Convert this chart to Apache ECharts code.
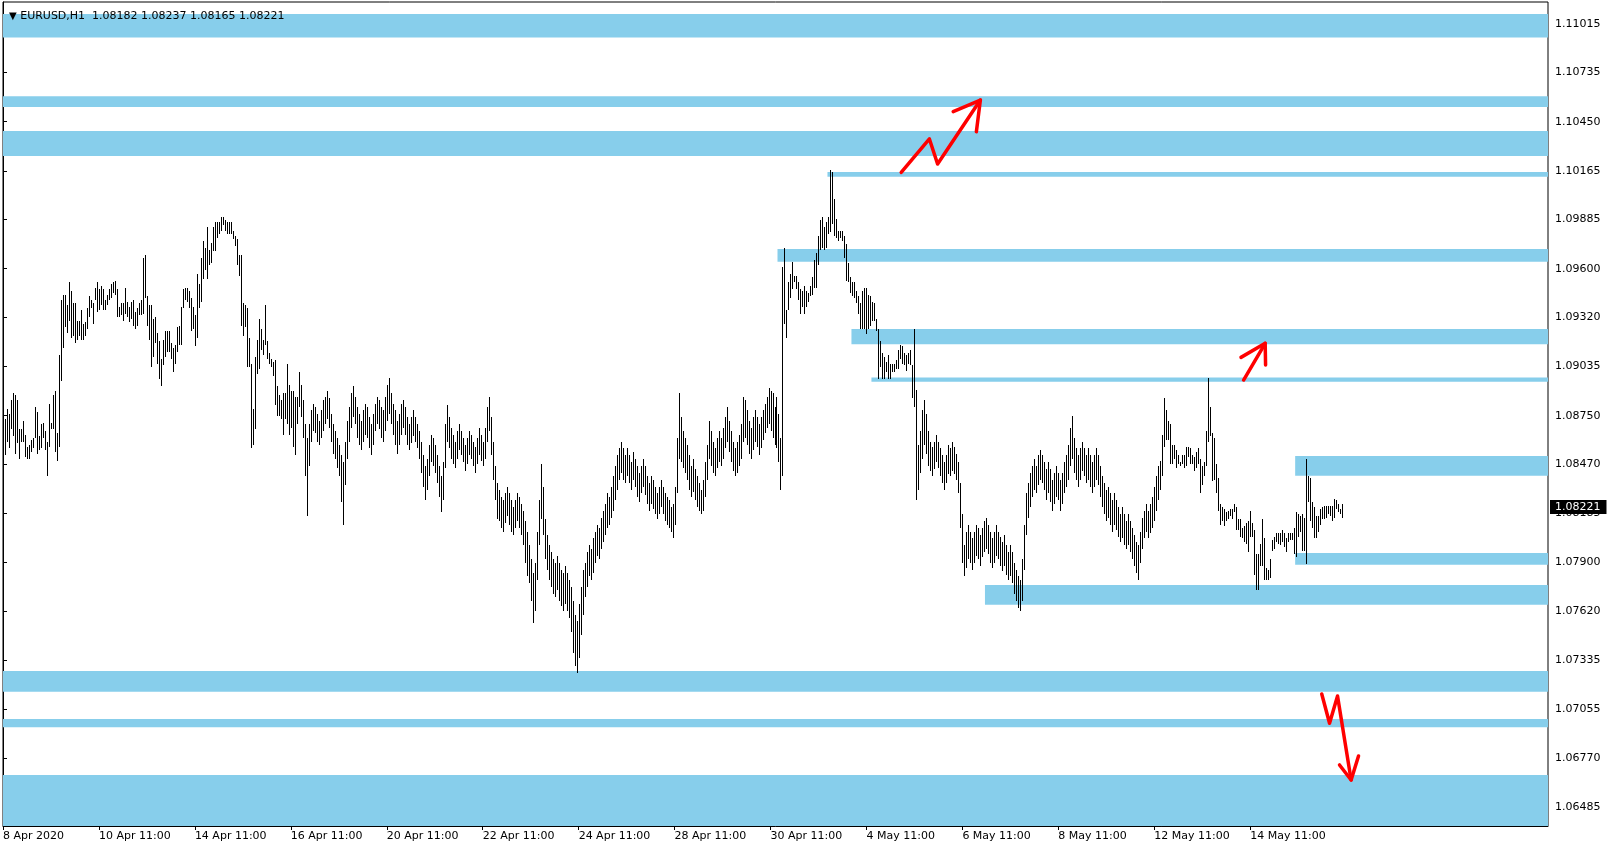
<!DOCTYPE html>
<html><head><meta charset="utf-8">
<script src="https://cdn.jsdelivr.net/npm/echarts@6/dist/echarts.min.js"></script>
<style>html,body{margin:0;padding:0;background:#fff}#c{width:1612px;height:850px}</style>
</head><body><div id="c"></div>
<script>
const symbolName = 'EURUSD,H1';
const lastQuote = [1.08182, 1.08237, 1.08165, 1.08221];
const lastPrice = 1.08221;

// hourly bar highs, one per bar from 8 Apr 2020 11:00 (rows of 10)
const barHigh = [
/*0*/  1.0862,1.0873,1.0879,1.0876,1.0884,1.0888,1.0887,1.0884,1.0867,1.0867,
/*10*/ 1.0872,1.0864,1.0857,1.0858,1.0861,1.0862,1.0880,1.0877,1.0863,1.0870,
/*20*/ 1.0871,1.0866,1.0860,1.0882,1.0871,1.0887,1.0889,1.0865,1.0910,1.0942,
/*30*/ 1.0945,1.0945,1.0939,1.0952,1.0947,1.0940,1.0940,1.0930,1.0930,1.0936,
/*40*/ 1.0928,1.0929,1.0937,1.0944,1.0942,1.0940,1.0949,1.0952,1.0948,1.0950,
/*50*/ 1.0948,1.0942,1.0945,1.0948,1.0951,1.0952,1.0953,1.0948,1.0938,1.0940,
/*60*/ 1.0940,1.0949,1.0941,1.0938,1.0941,1.0942,1.0935,1.0937,1.0940,1.0942,
/*70*/ 1.0966,1.0968,1.0944,1.0939,1.0939,1.0931,1.0932,1.0923,1.0918,1.0908,
/*80*/ 1.0919,1.0924,1.0924,1.0924,1.0917,1.0914,1.0916,1.0926,1.0927,1.0938,
/*90*/ 1.0948,1.0949,1.0949,1.0947,1.0943,1.0938,1.0933,1.0957,1.0951,1.0966,
/*100*/1.0976,1.0972,1.0984,1.0971,1.0975,1.0984,1.0987,1.0987,1.0987,1.0990,
/*110*/1.0990,1.0988,1.0987,1.0987,1.0987,1.0982,1.0979,1.0977,1.0968,1.0968,
/*120*/1.0940,1.0939,1.0937,1.0920,1.0905,1.0879,1.0909,1.0919,1.0931,1.0925,
/*130*/1.0919,1.0939,1.0918,1.0911,1.0908,1.0906,1.0907,1.0892,1.0887,1.0884,
/*140*/1.0888,1.0888,1.0905,1.0893,1.0889,1.0889,1.0886,1.0886,1.0900,1.0893,
/*150*/1.0884,1.0870,1.0862,1.0870,1.0878,1.0882,1.0880,1.0876,1.0872,1.0878,
/*160*/1.0884,1.0886,1.0889,1.0885,1.0876,1.0870,1.0866,1.0862,1.0858,1.0852,
/*170*/1.0848,1.0860,1.0872,1.0880,1.0888,1.0892,1.0886,1.0880,1.0876,1.0872,
/*180*/1.0878,1.0882,1.0880,1.0874,1.0870,1.0876,1.0882,1.0886,1.0884,1.0880,
/*190*/1.0878,1.0886,1.0893,1.0897,1.0888,1.0882,1.0878,1.0872,1.0876,1.0882,
/*200*/1.0884,1.0880,1.0874,1.0870,1.0874,1.0878,1.0874,1.0870,1.0866,1.0860,
/*210*/1.0852,1.0846,1.0850,1.0858,1.0864,1.0862,1.0858,1.0852,1.0846,1.0840,
/*220*/1.0848,1.0870,1.0881,1.0874,1.0868,1.0864,1.0860,1.0866,1.0870,1.0866,
/*230*/1.0862,1.0858,1.0862,1.0866,1.0864,1.0860,1.0857,1.0862,1.0868,1.0864,
/*240*/1.0860,1.0868,1.0880,1.0886,1.0874,1.0860,1.0846,1.0836,1.0832,1.0828,
/*250*/1.0826,1.0830,1.0834,1.0830,1.0826,1.0822,1.0826,1.0830,1.0828,1.0824,
/*260*/1.0820,1.0814,1.0808,1.0800,1.0792,1.0784,1.0790,1.0808,1.0826,1.0847,
/*270*/1.0834,1.0815,1.0806,1.0800,1.0796,1.0792,1.0790,1.0794,1.0790,1.0786,
/*280*/1.0784,1.0788,1.0784,1.0780,1.0776,1.0768,1.0760,1.0756,1.0766,1.0776,
/*290*/1.0786,1.0790,1.0796,1.0800,1.0798,1.0804,1.0808,1.0812,1.0810,1.0816,
/*300*/1.0820,1.0824,1.0830,1.0828,1.0834,1.0840,1.0846,1.0852,1.0856,1.0860,
/*310*/1.0856,1.0852,1.0856,1.0852,1.0848,1.0854,1.0850,1.0846,1.0842,1.0846,
/*320*/1.0850,1.0846,1.0840,1.0836,1.0840,1.0838,1.0834,1.0830,1.0834,1.0838,
/*330*/1.0834,1.0830,1.0828,1.0826,1.0822,1.0824,1.0834,1.0862,1.0888,1.0874,
/*340*/1.0866,1.0862,1.0858,1.0852,1.0846,1.0850,1.0844,1.0840,1.0836,1.0832,
/*350*/1.0838,1.0848,1.0858,1.0872,1.0866,1.0860,1.0856,1.0862,1.0866,1.0862,
/*360*/1.0868,1.0874,1.0880,1.0872,1.0866,1.0860,1.0856,1.0860,1.0864,1.0870,
/*370*/1.0886,1.0884,1.0878,1.0872,1.0868,1.0874,1.0878,1.0874,1.0870,1.0874,
/*380*/1.0878,1.0882,1.0886,1.0891,1.0889,1.0888,1.0880,1.0886,1.0876,1.0862,
/*390*/1.0961,1.0972,1.0936,1.0952,1.0957,1.0964,1.0956,1.0956,1.0952,1.0948,
/*400*/1.0947,1.0950,1.0947,1.0946,1.0950,1.0955,1.0965,1.0969,1.0979,1.0988,
/*410*/1.0990,1.0984,1.0987,1.0990,1.1017,1.1016,1.1000,1.0989,1.0982,1.0982,
/*420*/1.0982,1.0979,1.0974,1.0963,1.0955,1.0952,1.0952,1.0947,1.0944,1.0940,
/*430*/1.0947,1.0949,1.0949,1.0945,1.0944,1.0941,1.0940,1.0931,1.0925,1.0918,
/*440*/1.0911,1.0909,1.0906,1.0910,1.0905,1.0905,1.0905,1.0907,1.0913,1.0916,
/*450*/1.0915,1.0911,1.0910,1.0911,1.0913,1.0904,1.0925,1.0890,1.0858,1.0866,
/*460*/1.0878,1.0884,1.0876,1.0866,1.0860,1.0857,1.0860,1.0864,1.0860,1.0856,
/*470*/1.0852,1.0848,1.0852,1.0858,1.0856,1.0860,1.0857,1.0853,1.0848,1.0836,
/*480*/1.0818,1.0800,1.0808,1.0812,1.0808,1.0804,1.0808,1.0812,1.0810,1.0806,
/*490*/1.0810,1.0814,1.0816,1.0812,1.0808,1.0804,1.0808,1.0812,1.0808,1.0805,
/*500*/1.0802,1.0806,1.0800,1.0796,1.0800,1.0796,1.0790,1.0786,1.0782,1.0780,
/*510*/1.0792,1.0812,1.0830,1.0836,1.0842,1.0846,1.0850,1.0846,1.0852,1.0855,
/*520*/1.0852,1.0848,1.0844,1.0848,1.0844,1.0838,1.0842,1.0846,1.0842,1.0838,
/*530*/1.0842,1.0848,1.0852,1.0858,1.0868,1.0875,1.0862,1.0856,1.0852,1.0856,
/*540*/1.0860,1.0856,1.0852,1.0856,1.0852,1.0848,1.0852,1.0856,1.0852,1.0846,
/*550*/1.0840,1.0836,1.0832,1.0834,1.0830,1.0826,1.0830,1.0826,1.0822,1.0818,
/*560*/1.0822,1.0818,1.0814,1.0818,1.0814,1.0810,1.0806,1.0802,1.0800,1.0808,
/*570*/1.0816,1.0820,1.0824,1.0820,1.0824,1.0828,1.0834,1.0840,1.0846,1.0849,
/*580*/1.0864,1.0885,1.0878,1.0872,1.0870,1.0858,1.0858,1.0855,1.0852,1.0848,
/*590*/1.0852,1.0852,1.0857,1.0857,1.0856,1.0852,1.0851,1.0854,1.0856,1.0850,
/*600*/1.0846,1.0848,1.0866,1.0897,1.0880,1.0865,1.0862,1.0847,1.0839,1.0824,
/*610*/1.0822,1.0821,1.0819,1.0820,1.0821,1.0821,1.0824,1.0822,1.0815,1.0815,
/*620*/1.0810,1.0811,1.0813,1.0814,1.0820,1.0813,1.0809,1.0795,1.0795,1.0801,
/*630*/1.0815,1.0804,1.0787,1.0786,1.0792,1.0803,1.0805,1.0807,1.0807,1.0807,
/*640*/1.0809,1.0807,1.0804,1.0807,1.0807,1.0807,1.0810,1.0819,1.0818,1.0817,
/*650*/1.0818,1.0816,1.0850,1.0840,1.0839,1.0825,1.0822,1.0817,1.0817,1.0821,
/*660*/1.0822,1.0823,1.0823,1.0823,1.0823,1.0823,1.0827,1.0826,1.0824,1.0821,1.0824
];
// hourly bar lows, same order
const barLow = [
/*0*/  1.0845,1.0852,1.0860,1.0856,1.0867,1.0863,1.0853,1.0859,1.0850,1.0860,
/*10*/ 1.0860,1.0851,1.0850,1.0850,1.0854,1.0856,1.0862,1.0853,1.0855,1.0856,
/*20*/ 1.0862,1.0855,1.0840,1.0857,1.0867,1.0867,1.0854,1.0849,1.0857,1.0895,
/*30*/ 1.0914,1.0926,1.0923,1.0930,1.0920,1.0921,1.0917,1.0919,1.0921,1.0919,
/*40*/ 1.0919,1.0921,1.0925,1.0932,1.0937,1.0928,1.0942,1.0935,1.0936,1.0939,
/*50*/ 1.0936,1.0936,1.0939,1.0942,1.0943,1.0946,1.0945,1.0932,1.0932,1.0933,
/*60*/ 1.0930,1.0934,1.0932,1.0929,1.0931,1.0927,1.0925,1.0927,1.0933,1.0933,
/*70*/ 1.0934,1.0943,1.0927,1.0919,1.0903,1.0909,1.0917,1.0905,1.0896,1.0892,
/*80*/ 1.0904,1.0909,1.0912,1.0912,1.0908,1.0900,1.0905,1.0912,1.0916,1.0916,
/*90*/ 1.0937,1.0942,1.0941,1.0937,1.0924,1.0925,1.0915,1.0920,1.0937,1.0941,
/*100*/1.0954,1.0959,1.0954,1.0962,1.0963,1.0970,1.0970,1.0978,1.0980,1.0982,
/*110*/1.0985,1.0982,1.0980,1.0980,1.0980,1.0977,1.0973,1.0962,1.0956,1.0927,
/*120*/1.0921,1.0926,1.0903,1.0903,1.0856,1.0858,1.0867,1.0899,1.0902,1.0913,
/*130*/1.0910,1.0916,1.0908,1.0905,1.0903,1.0898,1.0881,1.0875,1.0875,1.0873,
/*140*/1.0864,1.0873,1.0870,1.0864,1.0868,1.0857,1.0852,1.0870,1.0880,1.0874,
/*150*/1.0862,1.0840,1.0817,1.0846,1.0860,1.0866,1.0865,1.0860,1.0858,1.0862,
/*160*/1.0866,1.0870,1.0873,1.0868,1.0860,1.0853,1.0850,1.0845,1.0840,1.0825,
/*170*/1.0812,1.0835,1.0850,1.0860,1.0868,1.0874,1.0870,1.0862,1.0858,1.0855,
/*180*/1.0860,1.0864,1.0862,1.0856,1.0852,1.0858,1.0866,1.0870,1.0867,1.0862,
/*190*/1.0860,1.0866,1.0872,1.0876,1.0870,1.0864,1.0858,1.0853,1.0858,1.0864,
/*200*/1.0868,1.0864,1.0858,1.0855,1.0859,1.0863,1.0860,1.0856,1.0850,1.0842,
/*210*/1.0834,1.0826,1.0832,1.0840,1.0848,1.0846,1.0842,1.0836,1.0828,1.0819,
/*220*/1.0826,1.0845,1.0860,1.0856,1.0850,1.0847,1.0845,1.0850,1.0855,1.0852,
/*230*/1.0848,1.0843,1.0847,1.0852,1.0850,1.0846,1.0842,1.0847,1.0852,1.0849,
/*240*/1.0846,1.0850,1.0860,1.0866,1.0852,1.0838,1.0826,1.0815,1.0814,1.0810,
/*250*/1.0808,1.0813,1.0817,1.0812,1.0808,1.0806,1.0810,1.0814,1.0810,1.0806,
/*260*/1.0800,1.0790,1.0782,1.0778,1.0768,1.0755,1.0762,1.0780,1.0800,1.0815,
/*270*/1.0806,1.0792,1.0786,1.0780,1.0776,1.0772,1.0770,1.0774,1.0768,1.0765,
/*280*/1.0762,1.0766,1.0762,1.0758,1.0750,1.0738,1.0730,1.0726,1.0735,1.0748,
/*290*/1.0760,1.0770,1.0776,1.0782,1.0780,1.0784,1.0790,1.0794,1.0792,1.0798,
/*300*/1.0802,1.0806,1.0810,1.0812,1.0816,1.0820,1.0826,1.0832,1.0838,1.0842,
/*310*/1.0838,1.0836,1.0840,1.0836,1.0832,1.0838,1.0834,1.0828,1.0825,1.0830,
/*320*/1.0834,1.0829,1.0824,1.0820,1.0824,1.0821,1.0818,1.0815,1.0818,1.0822,
/*330*/1.0818,1.0814,1.0812,1.0810,1.0808,1.0804,1.0812,1.0830,1.0850,1.0848,
/*340*/1.0845,1.0842,1.0838,1.0832,1.0828,1.0831,1.0826,1.0822,1.0820,1.0818,
/*350*/1.0820,1.0828,1.0838,1.0850,1.0846,1.0842,1.0840,1.0845,1.0848,1.0846,
/*360*/1.0850,1.0856,1.0860,1.0854,1.0848,1.0843,1.0840,1.0842,1.0846,1.0850,
/*370*/1.0860,1.0862,1.0858,1.0853,1.0850,1.0855,1.0860,1.0857,1.0852,1.0856,
/*380*/1.0861,1.0865,1.0868,1.0870,1.0866,1.0862,1.0858,1.0856,1.0848,1.0832,
/*390*/1.0840,1.0928,1.0920,1.0936,1.0943,1.0948,1.0952,1.0948,1.0942,1.0934,
/*400*/1.0938,1.0934,1.0938,1.0941,1.0944,1.0945,1.0949,1.0949,1.0962,1.0971,
/*410*/1.0972,1.0971,1.0972,1.0980,1.0981,1.0986,1.0979,1.0978,1.0976,1.0978,
/*420*/1.0976,1.0966,1.0953,1.0952,1.0946,1.0944,1.0943,1.0940,1.0934,1.0925,
/*430*/1.0925,1.0925,1.0922,1.0925,1.0927,1.0930,1.0930,1.0924,1.0896,1.0903,
/*440*/1.0896,1.0896,1.0900,1.0896,1.0896,1.0900,1.0900,1.0902,1.0902,1.0908,
/*450*/1.0905,1.0904,1.0901,1.0905,1.0904,1.0885,1.0880,1.0826,1.0832,1.0842,
/*460*/1.0850,1.0858,1.0853,1.0846,1.0843,1.0840,1.0844,1.0848,1.0845,1.0840,
/*470*/1.0836,1.0832,1.0836,1.0841,1.0840,1.0843,1.0841,1.0838,1.0830,1.0810,
/*480*/1.0790,1.0782,1.0787,1.0792,1.0790,1.0786,1.0790,1.0794,1.0792,1.0788,
/*490*/1.0793,1.0796,1.0798,1.0795,1.0790,1.0787,1.0790,1.0794,1.0792,1.0788,
/*500*/1.0785,1.0788,1.0783,1.0780,1.0782,1.0778,1.0772,1.0768,1.0764,1.0762,
/*510*/1.0768,1.0786,1.0806,1.0816,1.0822,1.0828,1.0832,1.0830,1.0835,1.0838,
/*520*/1.0836,1.0832,1.0826,1.0830,1.0825,1.0820,1.0824,1.0828,1.0826,1.0820,
/*530*/1.0824,1.0830,1.0834,1.0838,1.0846,1.0850,1.0842,1.0838,1.0834,1.0838,
/*540*/1.0843,1.0840,1.0836,1.0838,1.0834,1.0830,1.0834,1.0838,1.0835,1.0828,
/*550*/1.0822,1.0818,1.0814,1.0816,1.0812,1.0808,1.0812,1.0809,1.0805,1.0802,
/*560*/1.0804,1.0800,1.0798,1.0800,1.0796,1.0792,1.0788,1.0784,1.0780,1.0790,
/*570*/1.0798,1.0804,1.0808,1.0804,1.0807,1.0810,1.0814,1.0820,1.0826,1.0832,
/*580*/1.0840,1.0857,1.0861,1.0861,1.0847,1.0847,1.0850,1.0845,1.0847,1.0846,
/*590*/1.0847,1.0845,1.0846,1.0851,1.0847,1.0847,1.0843,1.0845,1.0847,1.0830,
/*600*/1.0835,1.0840,1.0846,1.0860,1.0863,1.0837,1.0838,1.0830,1.0820,1.0812,
/*610*/1.0814,1.0811,1.0814,1.0815,1.0817,1.0815,1.0819,1.0809,1.0809,1.0805,
/*620*/1.0804,1.0802,1.0801,1.0796,1.0805,1.0805,1.0783,1.0774,1.0774,1.0788,
/*630*/1.0788,1.0780,1.0780,1.0780,1.0781,1.0797,1.0798,1.0802,1.0801,1.0800,
/*640*/1.0802,1.0799,1.0796,1.0802,1.0803,1.0803,1.0795,1.0793,1.0805,1.0808,
/*650*/1.0797,1.0797,1.0789,1.0825,1.0814,1.0810,1.0804,1.0804,1.0808,1.0812,
/*660*/1.0815,1.0815,1.0816,1.0818,1.0817,1.0814,1.0816,1.0821,1.0819,1.0818,1.0816
];

const xTickLabels = ['8 Apr 2020','10 Apr 11:00','14 Apr 11:00','16 Apr 11:00','20 Apr 11:00','22 Apr 11:00','24 Apr 11:00','28 Apr 11:00','30 Apr 11:00','4 May 11:00','6 May 11:00','8 May 11:00','12 May 11:00','14 May 11:00'];
const barsPerLabel = 48;
const barSlots = 773;
const yTickLabels = [1.11015,1.10735,1.10450,1.10165,1.09885,1.09600,1.09320,1.09035,1.08750,1.08470,1.08185,1.07900,1.07620,1.07335,1.07055,1.06770,1.06485];

// horizontal zones: first bar slot, low price, high price
const zoneStart = [0,0,0,412.5,387.5,424.5,434.5,646.5,646.5,491.3,0,0,0];
const zoneLow  = [1.10936,1.10535,1.10252,1.10132,1.09640,1.09163,1.08946,1.08403,1.07888,1.07657,1.07154,1.06948,1.0630];
const zoneHigh = [1.11073,1.10597,1.10396,1.10159,1.09714,1.09251,1.08970,1.08517,1.07956,1.07771,1.07273,1.06996,1.06672];

// hand-drawn arrows: [bar slot, price] points
const arrowPaths = [
  [[449.4,1.10157],[463.5,1.10350],[467.6,1.10205],[489.0,1.10575]],
  [[475.4,1.10508],[489.0,1.10575],[487.0,1.10392]],
  [[620.7,1.08956],[631.5,1.09168]],
  [[619.4,1.09087],[631.5,1.09168],[631.7,1.09043]],
  [[659.8,1.07140],[663.7,1.06971],[667.7,1.07129],[674.5,1.06643]],
  [[668.7,1.06730],[674.5,1.06643],[678.2,1.06782]]
];

const FONT = 'DejaVu Sans';
const chart = echarts.init(document.getElementById('c'), null, {renderer: 'canvas'});
const barData = barHigh.map((h, i) => [i, barLow[i], h]);
const zoneData = zoneStart.map((s, k) => [s, barSlots, zoneLow[k], zoneHigh[k]]);
const xTickPos = xTickLabels.map((_, k) => k * barsPerLabel);

const arrowSeries = arrowPaths.map(p => ({
  type: 'line', data: p, symbol: 'none', silent: true, z: 5, clip: false,
  lineStyle: {color: '#ff0000', width: 3.5, cap: 'round', join: 'round'}
}));

chart.setOption({
  animation: false,
  backgroundColor: '#ffffff',
  title: {
    text: '{tri|▼} ' + symbolName + '  ' + lastQuote.map(v => v.toFixed(5)).join(' '),
    left: 4, top: 6,
    textStyle: {fontFamily: FONT, fontSize: 11, fontWeight: 'normal', color: '#000',
      rich: {tri: {fontFamily: FONT, fontSize: 10, color: '#000'}}}
  },
  grid: {left: 2, right: 64, top: 2, bottom: 24, show: true, borderColor: '#000', borderWidth: 1},
  xAxis: {
    type: 'value', min: 0, max: barSlots,
    splitLine: {show: false},
    axisLine: {show: true, lineStyle: {color: '#000', width: 1}},
    axisTick: {show: true, length: 4, lineStyle: {color: '#000'}, customValues: xTickPos},
    axisLabel: {customValues: xTickPos, formatter: v => xTickLabels[xTickPos.indexOf(v)],
      align: 'left', margin: 5, fontFamily: FONT, fontSize: 11, color: '#000'}
  },
  yAxis: {
    type: 'value', position: 'right', min: 1.06377, max: 1.11142,
    splitLine: {show: false},
    axisLine: {show: true, lineStyle: {color: '#000', width: 1}},
    axisTick: {show: true, length: 4, lineStyle: {color: '#000'}, customValues: yTickLabels},
    axisLabel: {customValues: yTickLabels, formatter: v => v.toFixed(5), margin: 7,
      fontFamily: FONT, fontSize: 11, color: '#000'}
  },
  series: [
    {
      type: 'custom', data: zoneData, z: 1, silent: true, clip: true,
      encode: {x: [0, 1], y: [2, 3]},
      renderItem: (params, api) => {
        const a = api.coord([api.value(0), api.value(3)]);
        const b = api.coord([api.value(1), api.value(2)]);
        return {type: 'rect', shape: {x: a[0], y: a[1], width: b[0] - a[0], height: b[1] - a[1]},
          style: {fill: '#87CEEB'}};
      }
    },
    {
      type: 'custom', data: barData, z: 3, silent: true, clip: true,
      encode: {x: 0, y: [1, 2]},
      renderItem: (params, api) => {
        const i = api.value(0);
        const lo = api.coord([i + 0.5, api.value(1)]);
        const hi = api.coord([i + 0.5, api.value(2)]);
        const x = Math.round(lo[0]) - 1;
        const y0 = Math.round(hi[1]);
        const h = Math.max(1, Math.round(lo[1]) - y0);
        return {type: 'rect', shape: {x: x, y: y0, width: 1, height: h}, style: {fill: '#000'}};
      }
    },
    {
      // current price tag on the price scale
      type: 'custom', data: [[barSlots, lastPrice]], z: 10, silent: true, clip: false,
      encode: {x: 0, y: 1},
      renderItem: (params, api) => {
        const p = api.coord([api.value(0), api.value(1)]);
        return {type: 'text', x: p[0] + 2, y: Math.round(p[1]), z2: 100,
          style: {text: api.value(1).toFixed(5), fill: '#fff', backgroundColor: '#000',
            padding: [2, 6, 1, 5], font: '11px "DejaVu Sans"', align: 'left', verticalAlign: 'middle'}};
      }
    }
  ].concat(arrowSeries)
});
</script>
</body></html>
